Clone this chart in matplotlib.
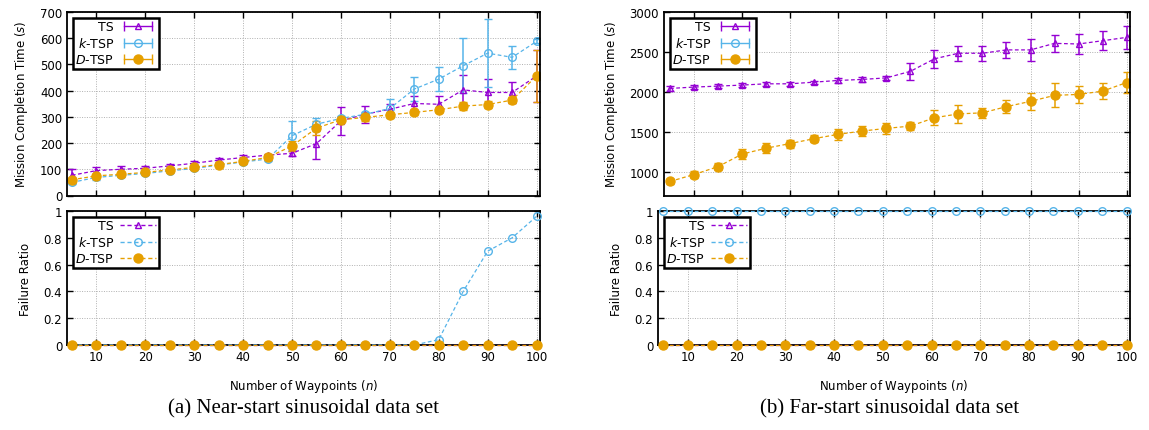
import matplotlib
matplotlib.use("Agg")
import matplotlib.pyplot as plt
from matplotlib.lines import Line2D
from matplotlib.legend_handler import HandlerLine2D

# number of waypoints
n = [5, 10, 15, 20, 25, 30, 35, 40, 45, 50, 55, 60, 65, 70, 75, 80, 85, 90, 95, 100]

# (a) near-start sinusoidal data set
ts_near = [77, 95, 100, 104, 113, 123, 135, 145, 154, 161, 198, 285, 310, 329, 351, 348, 403, 393, 393, 456]
ts_near_err = [25, 15, 12, 10, 8, 8, 8, 8, 6, 10, 60, 53, 33, 20, 30, 30, 55, 50, 40, 100]
ktsp_near = [50, 69, 77, 84, 94, 103, 116, 128, 139, 228, 272, 294, 310, 332, 406, 444, 495, 543, 527, 588]
ktsp_near_err = [8, 8, 6, 6, 6, 6, 6, 6, 6, 55, 25, 10, 8, 35, 45, 45, 105, 130, 45, 8]
dtsp_near = [60, 75, 81, 88, 98, 107, 118, 130, 145, 189, 257, 289, 298, 308, 317, 327, 341, 347, 364, 456]
dtsp_near_err = [8, 8, 6, 6, 6, 6, 6, 6, 6, 20, 28, 10, 12, 10, 10, 10, 15, 15, 12, 100]

ts_fail_near = [0, 0, 0, 0, 0, 0, 0, 0, 0, 0, 0, 0, 0, 0, 0, 0, 0, 0, 0, 0]
ktsp_fail_near = [0, 0, 0, 0, 0, 0, 0, 0, 0, 0, 0, 0, 0, 0, 0, 0.04, 0.4, 0.7, 0.8, 0.96]
dtsp_fail_near = [0, 0, 0, 0, 0, 0, 0, 0, 0, 0, 0, 0, 0, 0, 0, 0, 0, 0, 0, 0]

# (b) far-start sinusoidal data set (k-TSP never succeeds)
ts_far = [2042, 2059, 2071, 2084, 2100, 2100, 2121, 2142, 2155, 2174, 2256, 2413, 2483, 2483, 2525, 2525, 2607, 2599, 2640, 2682]
ts_far_err = [30, 25, 25, 25, 25, 25, 20, 30, 30, 25, 110, 110, 95, 95, 100, 135, 110, 125, 120, 145]
dtsp_far = [876, 963, 1062, 1219, 1293, 1351, 1413, 1467, 1508, 1541, 1570, 1674, 1723, 1736, 1814, 1880, 1955, 1967, 2008, 2116]
dtsp_far_err = [35, 40, 45, 60, 60, 50, 40, 70, 65, 70, 50, 95, 110, 60, 80, 110, 150, 110, 100, 135]

ts_fail_far = [0, 0, 0, 0, 0, 0, 0, 0, 0, 0, 0, 0, 0, 0, 0, 0, 0, 0, 0, 0]
ktsp_fail_far = [1, 1, 1, 1, 1, 1, 1, 1, 1, 1, 1, 1, 1, 1, 1, 1, 1, 1, 1, 1]
dtsp_fail_far = [0, 0, 0, 0, 0, 0, 0, 0, 0, 0, 0, 0, 0, 0, 0, 0, 0, 0, 0, 0]

labels = ["TS", "$k$-TSP", "$D$-TSP"]
colors = ["#9400D3", "#56B4E9", "#E69F00"]
markers = ["^", "o", "o"]
facecolors = ["none", "none", "#E69F00"]
msizes = [4.5, 5.5, 6.5]

plt.rcParams["font.family"] = ["DejaVu Sans"]
plt.rcParams["font.size"] = 8.5

W, H = 1149, 431


class CapLine(Line2D):
    pass


def px_axes(fig, left, right, top, bottom):
    return fig.add_axes([left / W, (H - bottom) / H, (right - left) / W, (bottom - top) / H])


def style_axes(ax):
    ax.grid(True, color="#b0b0b0", linestyle=(0, (1, 1.5)), linewidth=0.7)
    ax.set_axisbelow(True)
    ax.tick_params(direction="in", top=True, right=True, length=4, width=1.0, labelsize=8.5)
    for sp in ax.spines.values():
        sp.set_linewidth(1.3)
    ax.set_xticks([10, 20, 30, 40, 50, 60, 70, 80, 90, 100])


def add_legend(ax, errbars):
    handles = []
    for c, m, fc, ms in zip(colors, markers, facecolors, msizes):
        mk = Line2D([], [], color=c, marker=m, markerfacecolor=fc, markersize=ms,
                    linestyle="none", markeredgewidth=1.0)
        if errbars:
            cap = CapLine([], [], color=c, marker="|", markersize=7, linestyle="-", linewidth=1.0)
        else:
            cap = Line2D([], [], color=c, linestyle=(0, (3, 2)), linewidth=1.0)
        handles.append((cap, mk))
    leg = ax.legend(handles, labels, loc="upper left", markerfirst=False,
                    handler_map={CapLine: HandlerLine2D(numpoints=2)},
                    fancybox=False, framealpha=1, edgecolor="black",
                    borderaxespad=0.45, handlelength=2.9, handletextpad=0.45,
                    labelspacing=0.22, borderpad=0.22, fontsize=9)
    leg.get_frame().set_linewidth(1.8)


def time_panel(ax, series, ylim, yticks, xlim):
    for (y, e), c, m, fc, ms in zip(series, colors, markers, facecolors, msizes):
        if y is None:
            continue
        ax.errorbar(n, y, yerr=e, color=c, ecolor=c, elinewidth=1.1, capsize=3,
                    capthick=1.1, linestyle=(0, (3, 2)), linewidth=0.9, marker=m,
                    markerfacecolor=fc, markersize=ms, markeredgewidth=1.0)
    style_axes(ax)
    ax.set_xlim(*xlim)
    ax.set_ylim(*ylim)
    ax.set_yticks(yticks)
    ax.set_xticklabels([])
    ax.set_ylabel("Mission Completion Time ($s$)", fontsize=8.5, labelpad=7)
    add_legend(ax, True)


def fail_panel(ax, series, xlim):
    for y, c, m, fc, ms in zip(series, colors, markers, facecolors, msizes):
        ax.plot(n, y, color=c, linestyle=(0, (3, 2)), linewidth=0.9, marker=m,
                markerfacecolor=fc, markersize=ms, markeredgewidth=1.0, clip_on=False, zorder=3)
    style_axes(ax)
    ax.set_xlim(*xlim)
    ax.set_ylim(0, 1)
    ax.set_yticks([0, 0.2, 0.4, 0.6, 0.8, 1])
    ax.set_yticklabels(["0", "0.2", "0.4", "0.6", "0.8", "1"])
    ax.set_ylabel("Failure Ratio", fontsize=8.5, labelpad=8)
    ax.set_xlabel("Number of Waypoints ($n$)", fontsize=8.5, labelpad=10)
    add_legend(ax, False)


def main():
    fig = plt.figure(figsize=(W / 100, H / 100), dpi=100)

    # (a) near-start
    ax1 = px_axes(fig, 67, 540, 13, 196.5)
    time_panel(ax1, [(ts_near, ts_near_err), (ktsp_near, ktsp_near_err), (dtsp_near, dtsp_near_err)],
               (0, 700), [0, 100, 200, 300, 400, 500, 600, 700], (4.0, 100.7))
    ax2 = px_axes(fig, 67, 540, 212, 346)
    fail_panel(ax2, [ts_fail_near, ktsp_fail_near, dtsp_fail_near], (4.0, 100.7))

    # (b) far-start
    ax3 = px_axes(fig, 664, 1130, 13, 196.5)
    time_panel(ax3, [(ts_far, ts_far_err), (None, None), (dtsp_far, dtsp_far_err)],
               (700, 3000), [1000, 1500, 2000, 2500, 3000], (3.75, 100.7))
    ax4 = px_axes(fig, 658, 1130, 212, 346)
    fail_panel(ax4, [ts_fail_far, ktsp_fail_far, dtsp_fail_far], (3.9, 100.7))

    fig.text(303 / W, 1 - 409 / H, "(a) Near-start sinusoidal data set",
             family="Liberation Serif", fontsize=15, ha="center", va="center")
    fig.text(890 / W, 1 - 409 / H, "(b) Far-start sinusoidal data set",
             family="Liberation Serif", fontsize=15, ha="center", va="center")

    fig.savefig("out.png", dpi=100)


if __name__ == "__main__":
    main()
